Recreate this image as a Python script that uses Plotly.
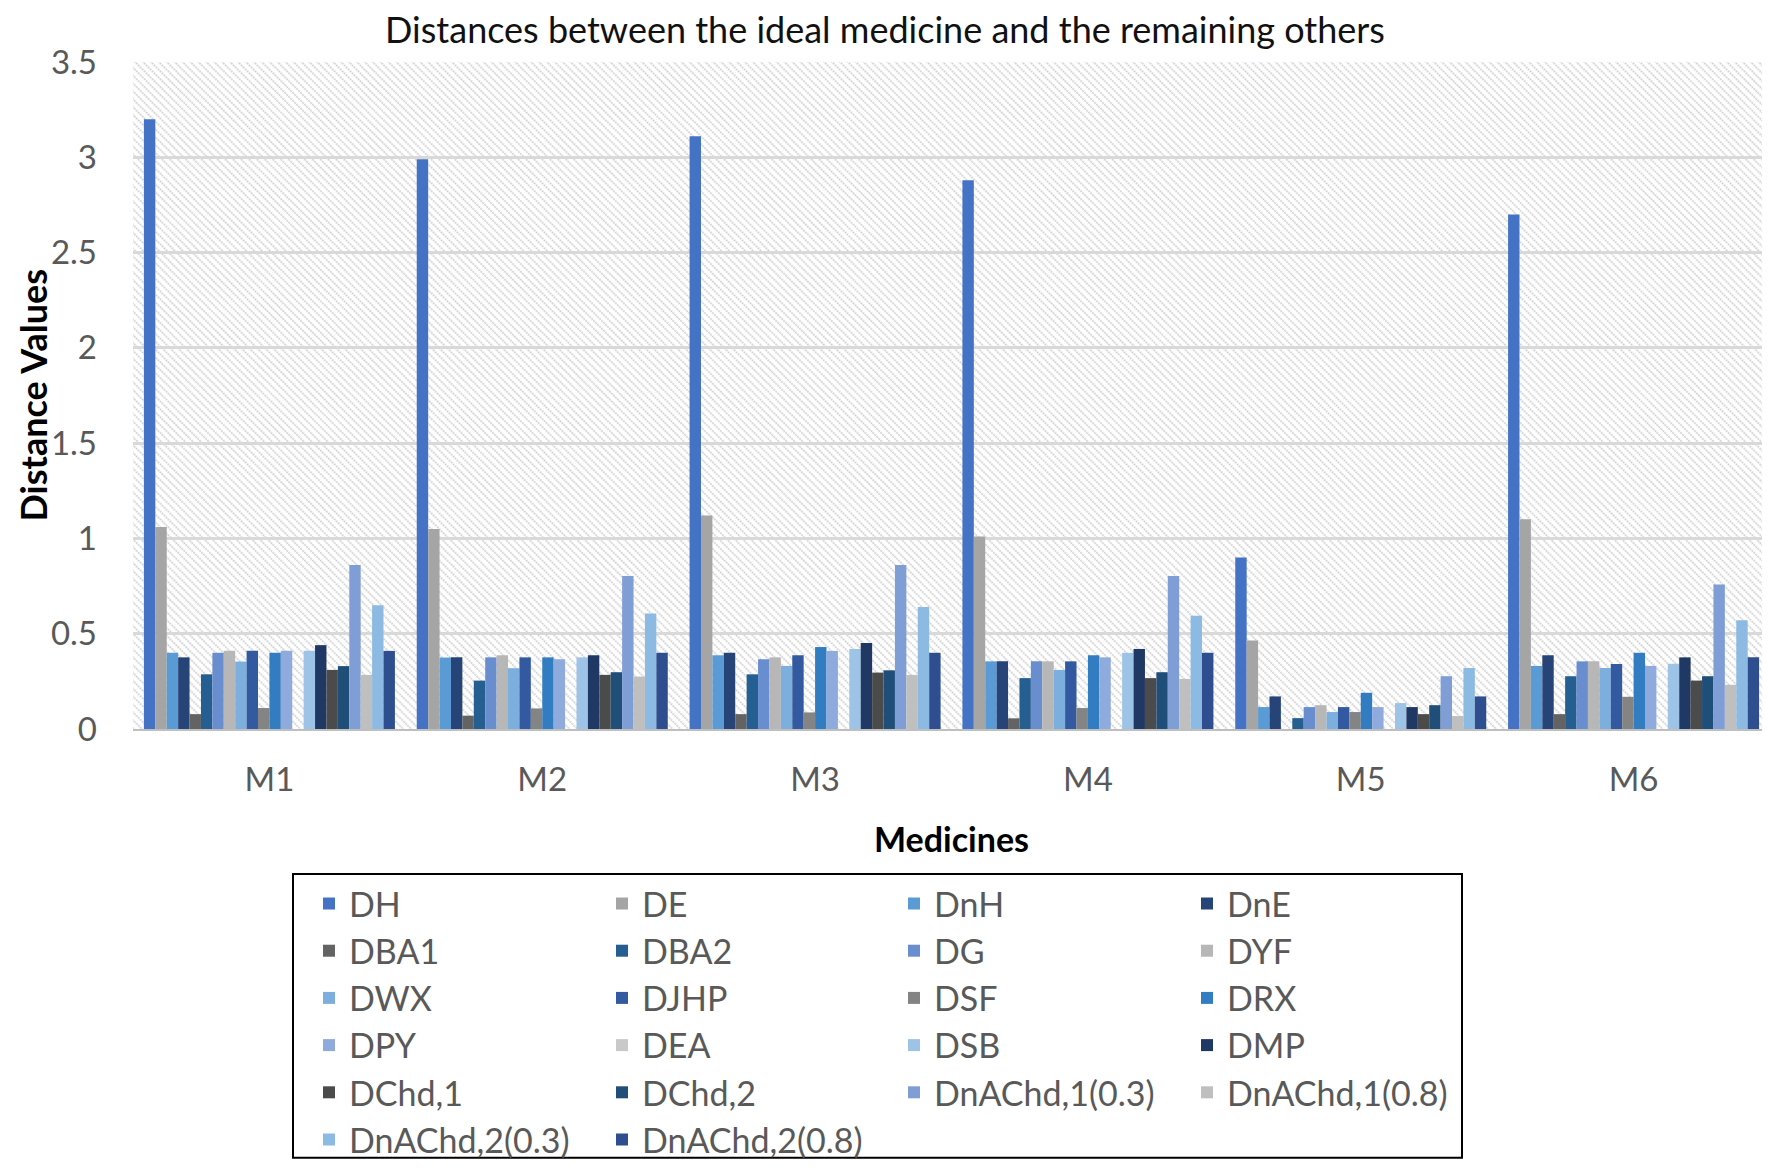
import base64
import plotly.graph_objects as go

categories = ["M1", "M2", "M3", "M4", "M5", "M6"]

series_names = ["DH", "DE", "DnH", "DnE", "DBA1", "DBA2", "DG", "DYF", "DWX", "DJHP",
                "DSF", "DRX", "DPY", "DEA", "DSB", "DMP", "DChd,1", "DChd,2",
                "DnAChd,1(0.3)", "DnAChd,1(0.8)", "DnAChd,2(0.3)", "DnAChd,2(0.8)"]

DH = [3.20, 2.99, 3.11, 2.88, 0.90, 2.70]
DE = [1.06, 1.05, 1.12, 1.01, 0.465, 1.10]
DnH = [0.40, 0.375, 0.387, 0.355, 0.115, 0.331]
DnE = [0.376, 0.376, 0.40, 0.355, 0.171, 0.387]
DBA1 = [0.078, 0.07, 0.078, 0.056, 0.0, 0.078]
DBA2 = [0.287, 0.254, 0.287, 0.267, 0.057, 0.277]
DG = [0.40, 0.376, 0.366, 0.355, 0.115, 0.355]
DYF = [0.41, 0.387, 0.376, 0.355, 0.125, 0.355]
DWX = [0.354, 0.319, 0.331, 0.31, 0.089, 0.32]
DJHP = [0.41, 0.376, 0.387, 0.355, 0.115, 0.341]
DSF = [0.11, 0.108, 0.087, 0.11, 0.089, 0.169]
DRX = [0.40, 0.376, 0.43, 0.387, 0.19, 0.40]
DPY = [0.41, 0.366, 0.41, 0.376, 0.115, 0.331]
DEA = [0.0, 0.0, 0.0, 0.0, 0.0, 0.0]
DSB = [0.41, 0.376, 0.42, 0.40, 0.136, 0.343]
DMP = [0.44, 0.387, 0.451, 0.42, 0.115, 0.376]
DChd1 = [0.31, 0.284, 0.296, 0.267, 0.078, 0.254]
DChd2 = [0.33, 0.298, 0.308, 0.298, 0.125, 0.277]
DnAChd1_03 = [0.86, 0.803, 0.86, 0.803, 0.277, 0.758]
DnAChd1_08 = [0.284, 0.275, 0.284, 0.263, 0.068, 0.232]
DnAChd2_03 = [0.65, 0.606, 0.64, 0.594, 0.32, 0.571]
DnAChd2_08 = [0.41, 0.40, 0.40, 0.40, 0.171, 0.376]

series_values = [DH, DE, DnH, DnE, DBA1, DBA2, DG, DYF, DWX, DJHP, DSF, DRX, DPY, DEA,
                 DSB, DMP, DChd1, DChd2, DnAChd1_03, DnAChd1_08, DnAChd2_03, DnAChd2_08]

colors = ["#4472C4", "#A5A5A5", "#5B9BD5", "#264478", "#636363", "#255E91",
          "#698ED0", "#B7B7B7", "#7CAFDD", "#335AA1", "#848484", "#327DC2",
          "#8FAADC", "#C9C9C9", "#9DC3E6", "#203864", "#4B4B4B", "#1F4E79",
          "#7F9ED6", "#BFBFBF", "#8DBAE2", "#2E4E8F"]

y_tickvals = [0, 0.5, 1, 1.5, 2, 2.5, 3, 3.5]
y_ticktext = ["0", "0.5", "1", "1.5", "2", "2.5", "3", "3.5"]

FONT = "Lato"

# page body has an 8px margin, so the figure is sized/offset to compensate
W, H = 1762, 1161
L, T, B = 125, 54, 435
PLOT_W = W - L
PLOT_H = H - T - B
BOTTOM = H - B


def px_x(fx):  # page x (px) -> paper x
    return (fx - 8 - L) / PLOT_W


def px_y(fy):  # page y (px) -> paper y
    return (BOTTOM - (fy - 8)) / PLOT_H


legend_ids = ["legend", "legend2", "legend3", "legend4"]

fig = go.Figure()
for i, (name, vals, col) in enumerate(zip(series_names, series_values, colors)):
    fig.add_trace(go.Bar(name=name, x=categories, y=vals, marker_color=col,
                         marker_line_width=0, legend=legend_ids[i % 4]))

svg = ("<svg xmlns='http://www.w3.org/2000/svg' width='1637' height='672'>"
       "<defs><pattern id='p' width='5.6' height='5.6' patternUnits='userSpaceOnUse' "
       "patternTransform='rotate(-45)'>"
       "<line x1='1.5' y1='0' x2='1.5' y2='5.6' stroke='#d0d0d0' stroke-width='1.6' "
       "stroke-dasharray='2,0.8'/></pattern></defs>"
       "<rect width='100%' height='100%' fill='white'/>"
       "<rect width='100%' height='100%' fill='url(#p)'/></svg>")
src = "data:image/svg+xml;base64," + base64.b64encode(svg.encode()).decode()

col_text_x = [350, 643, 935, 1228]
legend_top = 881

legend_layout = {}
for lid, tx in zip(legend_ids, col_text_x):
    legend_layout[lid] = dict(
        orientation="v", x=px_x(tx - 41), xanchor="left",
        y=px_y(legend_top), yanchor="top",
        borderwidth=0, bgcolor="rgba(0,0,0,0)",
        font=dict(family=FONT, size=34, color="#595959"),
        traceorder="normal", tracegroupgap=0,
    )

fig.update_layout(
    width=W, height=H,
    margin=dict(l=L, r=0, t=T, b=B),
    paper_bgcolor="white",
    plot_bgcolor="rgba(0,0,0,0)",
    barmode="group",
    bargap=0.08,
    bargroupgap=0,
    font=dict(family=FONT, size=33, color="#595959"),
    title=dict(text="Distances between the ideal medicine and the remaining others",
               x=(885 - 8) / W, xref="container", xanchor="center",
               y=1 - 22 / H, yref="container", yanchor="middle",
               font=dict(family=FONT, size=36, color="#111111")),
    images=[dict(source=src, xref="paper", yref="paper", x=0, y=1, sizex=1, sizey=1,
                 xanchor="left", yanchor="top", sizing="stretch", layer="below")],
    shapes=[dict(type="rect", xref="paper", yref="paper",
                 x0=px_x(293), x1=px_x(1462), y0=px_y(880), y1=px_y(1166),
                 line=dict(color="#000000", width=2), fillcolor="rgba(0,0,0,0)",
                 layer="below")],
    annotations=[dict(text="<b>Distance Values</b>", textangle=-90,
                      xref="paper", yref="paper", x=px_x(8), xanchor="left",
                      y=0.5, yanchor="middle", showarrow=False,
                      font=dict(family=FONT, size=36, color="#000000"))],
    xaxis=dict(
        showgrid=False, showline=True, linecolor="#BFBFBF", linewidth=2,
        ticks="", ticklabelstandoff=20,
        tickfont=dict(family=FONT, size=33, color="#595959"),
        title=dict(text="<b>Medicines</b>", standoff=32,
                   font=dict(family=FONT, size=34, color="#000000")),
        automargin=False,
    ),
    yaxis=dict(
        range=[0, 3.5], tickvals=y_tickvals, ticktext=y_ticktext,
        showgrid=True, gridcolor="#D9D9D9", gridwidth=3,
        zeroline=False, showline=False, ticks="", ticklabelstandoff=35,
        tickfont=dict(family=FONT, size=33, color="#595959"),
        automargin=False,
    ),
    showlegend=True,
    **legend_layout,
)

fig.write_html("out.html")
